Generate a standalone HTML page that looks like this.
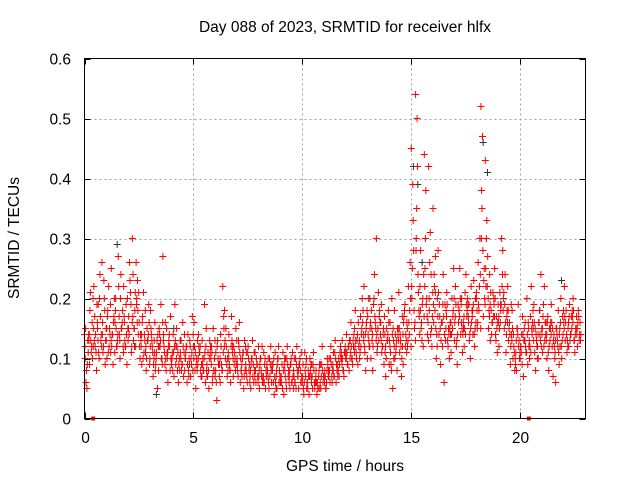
<!DOCTYPE html>
<html><head><meta charset="utf-8"><style>
body{margin:0;background:#fff;}
svg text{font-family:"Liberation Sans",sans-serif;font-size:15.5px;fill:#000;}
</style></head><body>
<svg id="chart" width="640" height="480" xmlns="http://www.w3.org/2000/svg">
<text x="345" y="32" text-anchor="middle">Day 088 of 2023, SRMTID for receiver hlfx</text>
<text transform="translate(19,238) rotate(-90)" text-anchor="middle">SRMTID / TECUs</text>
<text x="345" y="471" text-anchor="middle">GPS time / hours</text>
<g id="grid"></g>
<g id="pts"></g>
<rect x="84.5" y="58.5" width="501" height="360" fill="none" stroke="#000" stroke-width="1"/>
<g id="axes"></g>
</svg>
<script>
const xTicks=[0,5,10,15,20];
const yTicks=[0,0.1,0.2,0.3,0.4,0.5,0.6];
const yTickLabels=["0","0.1","0.2","0.3","0.4","0.5","0.6"];
const binStart=[0.0,0.2,0.4,0.6,0.8,1.0,1.2,1.4,1.6,1.8,2.0,2.2,2.4,2.6,2.8,3.0,3.2,3.4,3.6,3.8,4.0,4.2,4.4,4.6,4.8,5.0,5.2,5.4,5.6,5.8,6.0,6.2,6.4,6.6,6.8,7.0,7.2,7.4,7.6,7.8,8.0,8.2,8.4,8.6,8.8,9.0,9.2,9.4,9.6,9.8,10.0,10.2,10.4,10.6,10.8,11.0,11.2,11.4,11.6,11.8,12.0,12.2,12.4,12.6,12.8,13.0,13.2,13.4,13.6,13.8,14.0,14.2,14.4,14.6,14.8,15.0,15.2,15.4,15.6,15.8,16.0,16.2,16.4,16.6,16.8,17.0,17.2,17.4,17.6,17.8,18.0,18.2,18.4,18.6,18.8,19.0,19.2,19.4,19.6,19.8,20.0,20.2,20.4,20.6,20.8,21.0,21.2,21.4,21.6,21.8,22.0,22.2,22.4,22.6];
const binValues=[
[.14,.06,.10,.13,.05],[.13,.21,.09,.16,.11],[.12,.17,.22,.08,.14],[.15,.10,.19,.13,.24],[.26,.12,.16,.09,.20],
[.13,.18,.10,.15,.22],[.11,.14,.25,.17,.09],[.16,.12,.20,.27,.13],[.14,.24,.10,.18,.15],[.22,.12,.16,.09,.19],
[.13,.26,.17,.11,.21],[.30,.15,.24,.12,.18],[.20,.14,.23,.10,.16],[.12,.17,.09,.14,.21],[.11,.15,.08,.19,.13],
[.10,.14,.18,.07,.12],[.13,.09,.16,.05,.11],[.08,.12,.15,.10,.19],[.27,.11,.14,.08,.16],[.10,.13,.06,.17,.12],
[.09,.14,.11,.19,.07],[.12,.08,.15,.10,.06],[.11,.09,.13,.07,.16],[.08,.12,.10,.14,.06],[.10,.07,.13,.17,.09],
[.12,.08,.16,.10,.05],[.09,.11,.14,.07,.12],[.13,.08,.10,.06,.19],[.08,.11,.07,.13,.05],[.10,.06,.12,.08,.15],
[.07,.03,.11,.09,.13],[.09,.12,.06,.22,.08],[.15,.10,.18,.07,.12],[.11,.08,.14,.17,.06],[.12,.09,.07,.15,.10],
[.10,.13,.08,.06,.16],[.08,.11,.07,.13,.05],[.09,.06,.11,.08,.12],[.07,.10,.05,.09,.13],[.08,.06,.11,.07,.09],
[.07,.10,.05,.12,.08],[.06,.09,.11,.07,.05],[.08,.05,.10,.12,.07],[.09,.06,.08,.11,.04],[.07,.10,.05,.08,.12],
[.06,.09,.07,.04,.11],[.08,.05,.10,.07,.12],[.07,.09,.05,.11,.06],[.08,.06,.10,.12,.05],[.07,.09,.05,.11,.08],
[.06,.04,.09,.07,.11],[.05,.08,.06,.10,.04],[.07,.05,.09,.06,.11],[.06,.04,.08,.07,.05],[.05,.07,.09,.06,.12],
[.07,.05,.08,.10,.06],[.08,.06,.10,.07,.12],[.09,.07,.11,.06,.13],[.08,.10,.07,.12,.09],[.10,.08,.13,.11,.07],
[.11,.09,.14,.08,.12],[.13,.10,.16,.12,.09],[.15,.11,.18,.09,.13],[.12,.17,.10,.20,.14],[.14,.11,.22,.16,.08],
[.17,.12,.20,.10,.15],[.13,.19,.08,.16,.24],[.30,.15,.11,.18,.13],[.16,.12,.19,.09,.14],[.11,.15,.07,.18,.13],
[.13,.09,.16,.05,.20],[.10,.14,.18,.08,.12],[.15,.11,.21,.07,.13],[.12,.17,.09,.14,.19],[.16,.22,.12,.26,.14],
[.45,.39,.20,.15,.28],[.54,.50,.30,.18,.24],[.22,.16,.28,.12,.19],[.44,.38,.25,.14,.20],[.42,.31,.18,.12,.24],
[.35,.22,.16,.10,.27],[.20,.14,.28,.09,.17],[.16,.24,.12,.19,.06],[.18,.13,.21,.10,.15],[.14,.20,.11,.25,.17],
[.16,.12,.22,.19,.09],[.18,.14,.25,.11,.20],[.15,.21,.12,.17,.24],[.19,.13,.16,.22,.10],[.17,.23,.14,.20,.12],
[.20,.26,.15,.30,.18],[.52,.47,.38,.25,.17],[.43,.33,.22,.15,.27],[.24,.18,.13,.21,.16],[.19,.14,.25,.11,.17],
[.16,.21,.12,.30,.18],[.28,.15,.20,.11,.24],[.18,.13,.22,.09,.16],[.14,.10,.18,.08,.12],[.11,.15,.08,.13,.19],
[.10,.14,.12,.07,.17],[.13,.11,.16,.09,.20],[.12,.17,.10,.14,.22],[.15,.11,.19,.13,.08],[.12,.16,.10,.24,.14],
[.14,.19,.11,.16,.22],[.13,.17,.10,.15,.08],[.16,.12,.19,.14,.07],[.11,.15,.06,.18,.13],[.14,.20,.12,.17,.10],
[.16,.13,.22,.11,.18],[.15,.19,.12,.17,.14],[.17,.13,.20,.15,.11],[.14,.18,.12,.16,.13]];
const binValues2=[
[.12,.09,.15,.11,.08,.14],[.14,.12,.18,.10,.13,.20],[.15,.11,.13,.19,.12,.16],[.13,.17,.11,.14,.20,.12],[.14,.18,.11,.13,.23,.15],
[.15,.12,.17,.14,.11,.19],[.13,.16,.12,.20,.14,.11],[.18,.14,.15,.22,.12,.17],[.13,.16,.20,.12,.15,.11],[.17,.14,.13,.20,.12,.15],
[.15,.19,.14,.12,.23,.16],[.17,.21,.13,.26,.15,.19],[.16,.12,.18,.14,.21,.13],[.14,.11,.16,.13,.10,.18],[.12,.14,.10,.16,.13,.09],
[.12,.11,.15,.09,.13,.10],[.11,.13,.08,.14,.10,.12],[.12,.10,.14,.09,.13,.16],[.13,.10,.12,.15,.09,.11],[.11,.08,.12,.10,.14,.09],
[.10,.12,.08,.13,.11,.09],[.10,.09,.12,.08,.11,.13],[.10,.12,.08,.11,.09,.14],[.10,.09,.11,.08,.12,.07],[.09,.11,.12,.08,.10,.14],
[.10,.09,.12,.08,.11,.13],[.10,.08,.12,.09,.11,.07],[.09,.11,.08,.12,.10,.15],[.09,.10,.07,.11,.08,.12],[.09,.08,.11,.10,.07,.13],
[.08,.10,.06,.09,.12,.07],[.10,.08,.14,.11,.09,.17],[.12,.09,.13,.10,.15,.08],[.10,.12,.09,.13,.08,.11],[.10,.08,.12,.09,.11,.13],
[.09,.11,.07,.10,.12,.08],[.09,.07,.10,.08,.11,.12],[.08,.10,.07,.09,.11,.06],[.08,.07,.09,.06,.10,.11],[.07,.09,.08,.06,.10,.12],
[.08,.07,.09,.06,.10,.07],[.07,.08,.06,.09,.10,.08],[.07,.09,.06,.08,.10,.06],[.08,.07,.09,.06,.10,.05],[.08,.06,.09,.07,.10,.06],
[.07,.08,.06,.09,.05,.10],[.07,.09,.06,.08,.10,.06],[.08,.06,.09,.07,.10,.05],[.07,.09,.06,.08,.10,.07],[.08,.06,.09,.07,.10,.06],
[.07,.08,.05,.09,.06,.10],[.06,.07,.05,.08,.07,.09],[.06,.08,.07,.05,.09,.06],[.07,.05,.06,.08,.06,.09],[.06,.08,.05,.07,.09,.07],
[.06,.08,.07,.09,.05,.07],[.07,.09,.08,.06,.10,.08],[.08,.10,.07,.09,.11,.08],[.09,.11,.08,.10,.07,.11],[.09,.11,.10,.12,.08,.10],
[.10,.12,.11,.13,.09,.10],[.11,.13,.12,.14,.10,.11],[.12,.14,.13,.16,.10,.12],[.13,.15,.11,.16,.12,.18],[.13,.15,.12,.18,.14,.10],
[.14,.16,.13,.18,.12,.15],[.14,.17,.12,.15,.20,.13],[.14,.17,.12,.16,.21,.14],[.13,.15,.11,.17,.12,.14],[.12,.14,.10,.16,.13,.09],
[.12,.14,.11,.15,.08,.13],[.12,.13,.10,.15,.11,.14],[.13,.12,.15,.10,.14,.17],[.14,.12,.16,.13,.18,.11],[.15,.18,.13,.20,.16,.12],
[.22,.18,.25,.16,.33,.13],[.28,.21,.35,.17,.42,.14],[.18,.20,.15,.24,.13,.17],[.22,.17,.30,.16,.19,.13],[.20,.15,.26,.17,.14,.21],
[.19,.15,.24,.14,.18,.12],[.17,.15,.21,.13,.19,.16],[.16,.14,.19,.13,.17,.15],[.17,.14,.19,.15,.12,.16],[.16,.18,.14,.20,.15,.13],
[.17,.14,.19,.16,.13,.18],[.17,.15,.20,.14,.19,.16],[.17,.19,.15,.18,.14,.20],[.17,.15,.19,.16,.14,.18],[.18,.15,.19,.16,.14,.21],
[.18,.22,.16,.24,.19,.15],[.30,.23,.35,.20,.28,.19],[.25,.20,.30,.18,.22,.17],[.19,.16,.21,.17,.14,.20],[.17,.15,.20,.16,.13,.19],
[.17,.19,.15,.22,.16,.24],[.18,.16,.21,.14,.19,.17],[.16,.14,.18,.12,.15,.19],[.13,.11,.15,.10,.14,.09],[.13,.12,.15,.10,.14,.11],
[.12,.14,.11,.13,.09,.15],[.13,.14,.12,.16,.11,.15],[.13,.15,.12,.16,.11,.18],[.13,.14,.16,.12,.15,.10],[.14,.13,.16,.12,.18,.15],
[.15,.13,.17,.14,.12,.16],[.14,.12,.16,.13,.11,.15],[.14,.13,.16,.12,.15,.10],[.13,.12,.15,.11,.14,.09],[.15,.13,.16,.14,.12,.18],
[.15,.14,.17,.13,.16,.12],[.16,.14,.17,.15,.13,.18],[.16,.14,.18,.15,.13,.17],[.15,.14,.16,.13,.17,.14]];
const blackTimes=[1.5,2.3,3.3,4.1,13.1,15.1,15.3,15.5,16.1,17.3,18.3,18.5,19.1,20.9,21.9];
const blackValues=[.29,.12,.04,.15,.20,.42,.39,.26,.21,.16,.46,.41,.19,.18,.23];
const zeroMarkTimes=[0.4,20.4];

const X0=84.5,X1=585.5,Y0=418.5,Y1=58.5,XMAX=23.0,YMAX=0.6;
function xs(t){return X0+(X1-X0)*t/XMAX;}
function ys(v){return Y0-(Y0-Y1)*v/YMAX;}
const NS="http://www.w3.org/2000/svg";
function mk(tag,attrs,parent){const e=document.createElementNS(NS,tag);for(const k in attrs)e.setAttribute(k,attrs[k]);parent.appendChild(e);return e;}
const grid=document.getElementById('grid'),axes=document.getElementById('axes'),pts=document.getElementById('pts');
xTicks.forEach((t,i)=>{const x=Math.round(xs(t))+0.5;
 if(i>0){const g=mk('line',{x1:x,x2:x,y1:Y1,y2:Y0,stroke:'#a0a0a0','stroke-dasharray':'2,3'},grid);
 
 }
 const tk=mk('path',{d:`M${x},${Y0}v-6M${x},${Y1}v6`,stroke:'#000'},axes);
 
 
 const lb=mk('text',{x:x,y:443,'text-anchor':'middle'},axes);lb.textContent=t;
 
 
});
yTicks.forEach((v,i)=>{const y=Math.round(ys(v))+0.5;
 if(i>0&&i<yTicks.length-1){const g=mk('line',{x1:X0,x2:X1,y1:y,y2:y,stroke:'#a0a0a0','stroke-dasharray':'2,3'},grid);
 
 }
 const tk=mk('path',{d:`M${X0},${y}h6M${X1},${y}h-6`,stroke:'#000'},axes);
 
 
 const lb=mk('text',{x:71,y:y+5,'text-anchor':'end'},axes);lb.textContent=yTickLabels[i];
 
 
});
function plus(t,v,col,name){const x=xs(t),y=ys(v);
 const p=mk('path',{d:`M${x-3.5},${y}h7M${x},${y-3.5}v7`,stroke:col,'stroke-width':1},pts);
 
 }
const off1=[0.0,0.07,0.03,0.15,0.11];
const off2=[0.02,0.13,0.05,0.17,0.09,0.19];
blackTimes.forEach((t,i)=>plus(t,blackValues[i],'#333','black-point'));
binStart.forEach((t,i)=>{binValues[i].forEach((v,k)=>plus(t+off1[k],v,'#ff0000','red-point'));});
binStart.forEach((t,i)=>{binValues2[i].forEach((v,k)=>plus(t+off2[k],v,'#ff0000','red-point'));});
zeroMarkTimes.forEach(t=>{const r=mk('rect',{x:xs(t)-2,y:Y0-2,width:4,height:4,fill:'#ff0000'},pts);
 
 });
</script>
</body></html>
